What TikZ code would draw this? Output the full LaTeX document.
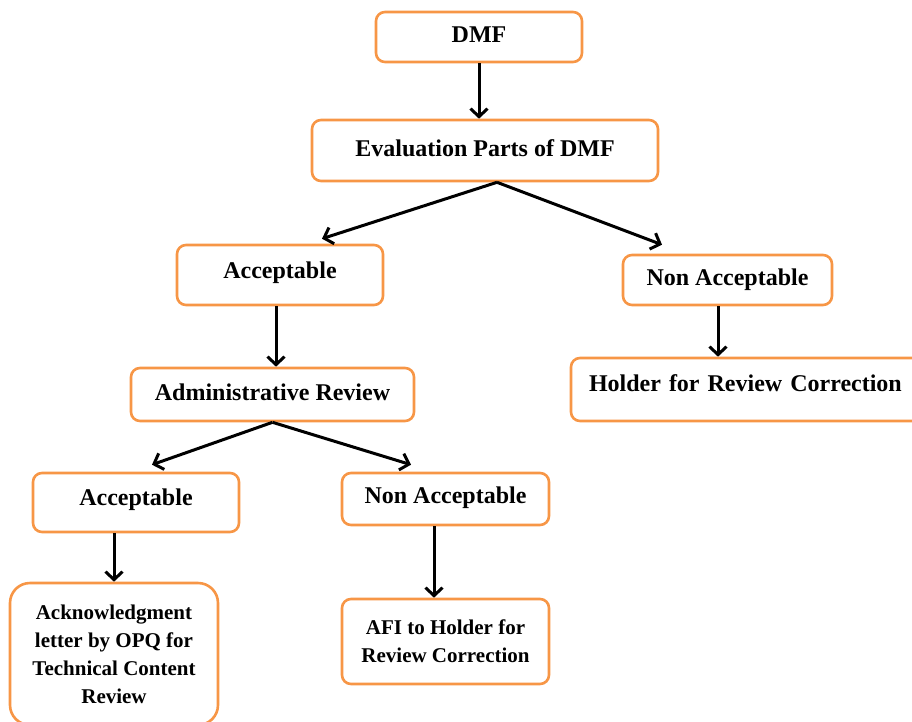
\documentclass[tikz,border=0pt]{standalone}
\usepackage{fontspec}
\setmainfont{Liberation Serif}
\usetikzlibrary{arrows.meta}
\definecolor{boxorange}{HTML}{F79646}
\tikzset{
  box/.style={draw=boxorange, line width=2.6pt, rounded corners=9pt, fill=white,
    font=\bfseries\fontsize{24}{28}\selectfont, inner sep=0pt,
    text height=17pt, text depth=6pt, align=center},
  smallbox/.style={box, font=\bfseries\fontsize{21}{28}\selectfont, text height=, text depth=},
  arr/.style={draw=black, line width=3pt, -{Straight Barb[length=8pt,width=17pt,line width=3pt]}}
}
\begin{document}
\begin{tikzpicture}[x=1pt,y=-1pt]
\useasboundingbox (0,0) rectangle (912,721);
\node[box, minimum width=206pt, minimum height=50pt] (dmf) at (479,37) {DMF};
\node[box, minimum width=346pt, minimum height=61pt] (eval) at (485,150.5) {Evaluation Parts of DMF};
\node[box, minimum width=206pt, minimum height=60pt, text depth=11pt] (acc1) at (280,275) {Acceptable};
\node[box, minimum width=209pt, minimum height=50pt] (nacc1) at (727.5,280) {Non Acceptable};
\node[box, minimum width=283pt, minimum height=53pt] (admin) at (272.5,394.5) {Administrative Review};
\node[box, minimum height=63pt, text width=346pt, inner xsep=18pt, align=left, text depth=14pt] (holder) at (762,389.5) {Holder for Review Correction};
\node[box, minimum width=206pt, minimum height=59pt, text depth=11pt] (acc2) at (136,502.5) {Acceptable};
\node[box, minimum width=207pt, minimum height=52pt, text depth=8pt] (nacc2) at (445.5,499) {Non Acceptable};
\node[smallbox, rounded corners=20pt, minimum width=208pt, minimum height=142pt] (ack) at (114,654) {Acknowledgment\\letter by OPQ for\\Technical Content\\Review};
\node[smallbox, minimum width=207pt, minimum height=85pt] (afi) at (445.5,641.5) {AFI to Holder for\\Review Correction};

\draw[arr] (dmf.south) -- (dmf.south |- eval.north);
\draw[arr] ([xshift=12pt]eval.south) -- ([xshift=42pt,yshift=5pt]acc1.north);
\draw[arr] ([xshift=12pt]eval.south) -- ([xshift=-65.5pt,yshift=9pt]nacc1.north);
\draw[arr] ([xshift=-4pt]acc1.south) -- ([xshift=-4pt]acc1.south |- admin.north);
\draw[arr] (admin.south) -- ([xshift=16pt,yshift=7pt]acc2.north);
\draw[arr] (admin.south) -- ([xshift=-34.5pt,yshift=7pt]nacc2.north);
\draw[arr] ([xshift=-9.5pt]nacc1.south) -- ([xshift=-9.5pt]nacc1.south |- holder.north);
\draw[arr] ([xshift=-22pt]acc2.south) -- ([xshift=-22pt]acc2.south |- ack.north);
\draw[arr] ([xshift=-11.5pt]nacc2.south) -- ([xshift=-11.5pt]nacc2.south |- afi.north);
\end{tikzpicture}
\end{document}
